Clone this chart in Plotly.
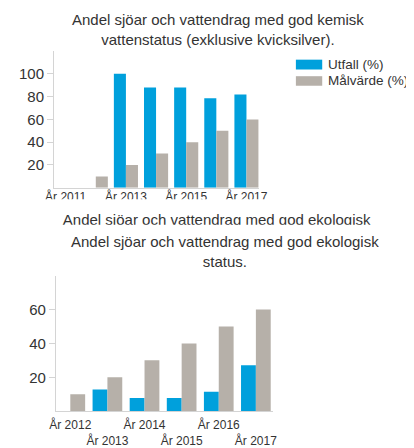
import plotly.graph_objects as go

# The page body adds an 8px margin, so the figure is drawn 8px in from the window edge.
OFF = 8
W, H = 414 - OFF, 448 - OFF

# ---------------- data ----------------
years_kemisk = ["År 2011", "År 2012", "År 2013", "År 2014", "År 2015", "År 2016", "År 2017"]
utfall_kemisk = [None, None, 100, 88, 88, 78.6, 81.8]
malvarde_kemisk = [None, 10, 20, 30, 40, 50, 60]
kemisk_label_years = ["År 2011", "År 2013", "År 2015", "År 2017"]
kemisk_yticks = [20, 40, 60, 80, 100]

years_ekologisk = ["År 2012", "År 2013", "År 2014", "År 2015", "År 2016", "År 2017"]
utfall_ekologisk = [None, 12.8, 7.8, 7.8, 11.4, 27.1]
malvarde_ekologisk = [10, 20, 30, 40, 50, 60]
ekologisk_yticks = [20, 40, 60]

series_names = ["Utfall (%)", "Målvärde (%)"]
title_kemisk = ["Andel sjöar och vattendrag med god kemisk", "vattenstatus (exklusive kvicksilver)."]
title_ekologisk = ["Andel sjöar och vattendrag med god ekologisk", "status."]

BLUE = "#00a0dc"
GRAY = "#b6b0a9"
AXIS = "#d4d4d4"
TXT = "#333333"
FONT = "Liberation Sans, Arial, sans-serif"


def fx(px):
    return (px - OFF) / W


def fy(py):
    return 1 - (py - OFF) / H


# chart 1 horizontal geometry (window pixels)
X1_L, X1_R = 49, 259
R1 = [-0.387, 6.41]
s1 = (X1_R - X1_L) / (R1[1] - R1[0])
R3 = [R1[0] - (X1_L - OFF) / s1, R1[0] + (414 - X1_L) / s1]

fig = go.Figure()

# chart 1 bars
fig.add_trace(go.Bar(x=years_kemisk, y=utfall_kemisk, name=series_names[0], marker_color=BLUE,
                     marker_line_width=0, xaxis="x", yaxis="y", showlegend=False))
fig.add_trace(go.Bar(x=years_kemisk, y=malvarde_kemisk, name=series_names[1], marker_color=GRAY,
                     marker_line_width=0, xaxis="x", yaxis="y", showlegend=False))
# chart 2 bars
fig.add_trace(go.Bar(x=years_ekologisk, y=utfall_ekologisk, name=series_names[0], marker_color=BLUE,
                     marker_line_width=0, xaxis="x2", yaxis="y2", showlegend=False))
fig.add_trace(go.Bar(x=years_ekologisk, y=malvarde_ekologisk, name=series_names[1], marker_color=GRAY,
                     marker_line_width=0, xaxis="x2", yaxis="y2", showlegend=False))
# invisible trace so the second-row label axis knows its categories
fig.add_trace(go.Scatter(x=years_ekologisk, y=malvarde_ekologisk, mode="markers",
                         marker=dict(opacity=0), xaxis="x5", yaxis="y2",
                         showlegend=False, hoverinfo="skip"))

# chart 1 x labels (clipped by the frame bottom, as in the reference)
fig.add_trace(go.Scatter(x=kemisk_label_years, y=[0.133] * len(kemisk_label_years),
                         text=kemisk_label_years, mode="text", textposition="middle center",
                         textfont=dict(size=12, color=TXT, family=FONT), cliponaxis=True,
                         xaxis="x3", yaxis="y3", showlegend=False, hoverinfo="skip"))
# cut-off duplicate title line
fig.add_trace(go.Scatter(x=[fx(215.8)], y=[0.163], text=[title_ekologisk[0]], mode="text",
                         textposition="middle center",
                         textfont=dict(size=15, color=TXT, family=FONT), cliponaxis=True,
                         xaxis="x4", yaxis="y4", showlegend=False, hoverinfo="skip"))

ytick_font = dict(size=15, color=TXT, family=FONT)
xtick_font = dict(size=12, color=TXT, family=FONT)

fig.update_layout(
    width=W, height=H,
    margin=dict(l=0, r=0, t=0, b=0),
    paper_bgcolor="white", plot_bgcolor="rgba(0,0,0,0)",
    font=dict(family=FONT, color=TXT),
    barmode="group", bargap=0.2, bargroupgap=0,
    showlegend=False,
    xaxis=dict(domain=[fx(X1_L), fx(X1_R)], anchor="y", type="category",
               categoryorder="array", categoryarray=years_kemisk,
               range=R1, showline=True, linecolor=AXIS, linewidth=1,
               showticklabels=False, ticks="", showgrid=False, zeroline=False, fixedrange=True),
    yaxis=dict(domain=[fy(190.7), fy(51.7)], anchor="x", range=[0, 120],
               tickvals=kemisk_yticks, showline=True, linecolor=AXIS, linewidth=1,
               ticks="outside", ticklen=6, tickcolor=AXIS, tickfont=ytick_font,
               showgrid=False, zeroline=False, fixedrange=True),
    xaxis3=dict(domain=[0, 1], anchor="y3", type="category",
                categoryorder="array", categoryarray=years_kemisk,
                range=R3, visible=False, fixedrange=True),
    yaxis3=dict(domain=[fy(202.3), fy(191)], anchor="x3", range=[0, 1], visible=False, fixedrange=True),
    xaxis4=dict(domain=[0, 1], anchor="y4", range=[0, 1], visible=False, fixedrange=True),
    yaxis4=dict(domain=[fy(228.3), fy(205)], anchor="x4", range=[0, 1], visible=False, fixedrange=True),
    xaxis2=dict(domain=[fx(51), fx(273.3)], anchor="y2", type="category",
                categoryorder="array", categoryarray=years_ekologisk,
                range=[-0.387, 5.455], showline=True, linecolor=AXIS, linewidth=1,
                tickvals=years_ekologisk[0::2], ticks="", tickfont=xtick_font,
                ticklabelstandoff=2,
                showgrid=False, zeroline=False, fixedrange=True),
    xaxis5=dict(overlaying="x2", anchor="y2", side="bottom", type="category",
                categoryorder="array", categoryarray=years_ekologisk,
                range=[-0.387, 5.455], showline=False,
                tickvals=years_ekologisk[1::2], ticks="", tickfont=xtick_font,
                ticklabelstandoff=21, showgrid=False, zeroline=False, fixedrange=True),
    yaxis2=dict(domain=[fy(417.7), fy(280)], anchor="x2", range=[0, 80],
                tickvals=ekologisk_yticks, showline=True, linecolor=AXIS, linewidth=1,
                ticks="outside", ticklen=6, tickcolor=AXIS, tickfont=ytick_font,
                showgrid=False, zeroline=False, fixedrange=True),
)

# titles
fig.add_annotation(text="<br>".join(title_kemisk), x=fx(217.5), y=fy(30), xref="paper", yref="paper",
                   xanchor="center", yanchor="middle", showarrow=False,
                   font=dict(size=15, color=TXT, family=FONT))
fig.add_annotation(text="<br>".join(title_ekologisk), x=fx(224.2), y=fy(255), xref="paper", yref="paper",
                   xanchor="center", yanchor="middle", showarrow=False,
                   font=dict(size=15, color=TXT, family=FONT))

# legend (chart 1)
legend_rows = [(series_names[0], BLUE, 60.5, 70.5), (series_names[1], GRAY, 77.3, 87.0)]
for name, col, y0, y1 in legend_rows:
    fig.add_shape(type="rect", xref="paper", yref="paper", x0=fx(297), x1=fx(324),
                  y0=fy(y1), y1=fy(y0), fillcolor=col, line=dict(width=0))
    fig.add_annotation(text=name, x=fx(328), y=fy((y0 + y1) / 2), xref="paper", yref="paper",
                       xanchor="left", yanchor="middle", showarrow=False,
                       font=dict(size=13.5, color=TXT, family=FONT))

fig.write_html("out.html")
